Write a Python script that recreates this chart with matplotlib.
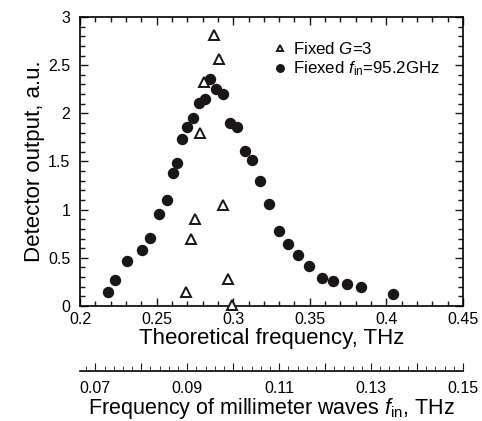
import numpy as np
import matplotlib
matplotlib.use("Agg")
import matplotlib.pyplot as plt
from matplotlib.ticker import MultipleLocator, FuncFormatter

plt.rcParams["font.family"] = "Liberation Sans"
plt.rcParams["mathtext.fontset"] = "custom"
plt.rcParams["mathtext.rm"] = "Liberation Sans"
plt.rcParams["mathtext.it"] = "Liberation Sans:italic"

# fixed f_in = 95.2 GHz (filled circles)
circ_x = [0.2185, 0.2229, 0.2309, 0.2405, 0.2459, 0.2514, 0.2570, 0.2605,
          0.2635, 0.2668, 0.2700, 0.2738, 0.2775, 0.2814, 0.2851, 0.2890,
          0.2933, 0.2981, 0.3027, 0.3077, 0.3125, 0.3177, 0.3236, 0.3297,
          0.3360, 0.3425, 0.3497, 0.3577, 0.3653, 0.3741, 0.3834, 0.4045]
circ_y = [0.14, 0.27, 0.47, 0.58, 0.71, 0.96, 1.10, 1.38,
          1.48, 1.73, 1.86, 1.95, 2.11, 2.15, 2.36, 2.25,
          2.20, 1.90, 1.86, 1.61, 1.52, 1.30, 1.06, 0.78,
          0.64, 0.53, 0.42, 0.29, 0.26, 0.23, 0.20, 0.12]

# fixed G = 3 (open triangles)
tri_x = [0.2872, 0.2905, 0.2811, 0.2785, 0.2931, 0.2753, 0.2725, 0.2968, 0.2694, 0.2992]
tri_y = [2.81, 2.56, 2.33, 1.80, 1.05, 0.90, 0.70, 0.28, 0.15, 0.01]

fig = plt.figure(figsize=(4.82, 4.21), dpi=100)
ax = fig.add_axes([0.166, 0.2732, 0.7946, 0.6864])

ax.plot(circ_x, circ_y, "o", color="#1a1616", markersize=7.2, linestyle="none",
        label="Fiexed $\\it{f}_{\\rm in}$=95.2GHz", zorder=3)
ax.plot(tri_x, tri_y, "^", markerfacecolor="white", markeredgecolor="#1a1616",
        markeredgewidth=1.4, markersize=6.5, linestyle="none",
        label="Fixed $\\it{G}$=3", clip_on=False, zorder=4)

ax.set_xlim(0.2, 0.45)
ax.set_ylim(0, 3)
ax.xaxis.set_major_locator(MultipleLocator(0.05))
ax.xaxis.set_minor_locator(MultipleLocator(0.01))
ax.yaxis.set_major_locator(MultipleLocator(0.5))
ax.yaxis.set_minor_locator(MultipleLocator(0.1))
ax.xaxis.set_major_formatter(FuncFormatter(lambda v, p: f"{v:g}"))
ax.yaxis.set_major_formatter(FuncFormatter(lambda v, p: f"{v:g}"))
ax.tick_params(which="both", direction="in", top=True, right=True, labelsize=11.5,
               width=1.0, color="#1a1616")
ax.tick_params(which="major", length=6)
ax.tick_params(which="minor", length=3.5)
ax.tick_params(axis="x", pad=4)
ax.tick_params(axis="y", pad=7)
for s in ax.spines.values():
    s.set_linewidth(1.2)

ax.set_xlabel("Theoretical frequency, THz", fontsize=16, labelpad=1)
ax.set_ylabel("Detector output, a.u.", fontsize=16, labelpad=2)

handles, labels = ax.get_legend_handles_labels()
ax.legend(handles[::-1], labels[::-1], loc="upper right", frameon=False,
          fontsize=12.2, markerscale=0.75, handletextpad=0.3, handlelength=1.0,
          borderaxespad=0.6, labelspacing=0.15, bbox_to_anchor=(0.985, 0.975))

# secondary frequency scale (f_in = f_theo / 3)
ax2 = fig.add_axes([0.166, 0.1188, 0.7946, 0.001])
ax2.set_xlim(0.2 / 3, 0.15)
ax2.set_yticks([])
for side in ["top", "left", "right"]:
    ax2.spines[side].set_visible(False)
ax2.spines["bottom"].set_linewidth(1.2)
ax2.xaxis.set_major_locator(MultipleLocator(0.01))
ax2.xaxis.set_minor_locator(MultipleLocator(0.002))
ax2.xaxis.set_major_formatter(
    FuncFormatter(lambda v, p: f"{v:.2f}" if int(round(v * 100)) % 2 == 1 else ""))
ax2.tick_params(which="both", direction="in", labelsize=11.5, color="#1a1616")
ax2.tick_params(which="major", length=6, pad=7)
ax2.tick_params(which="minor", length=3.5)
ax2.set_xlabel("Frequency of millimeter waves $\\it{f}_{\\rm in}$, THz", fontsize=15.5, labelpad=0)

fig.savefig("out.png", dpi=100)
